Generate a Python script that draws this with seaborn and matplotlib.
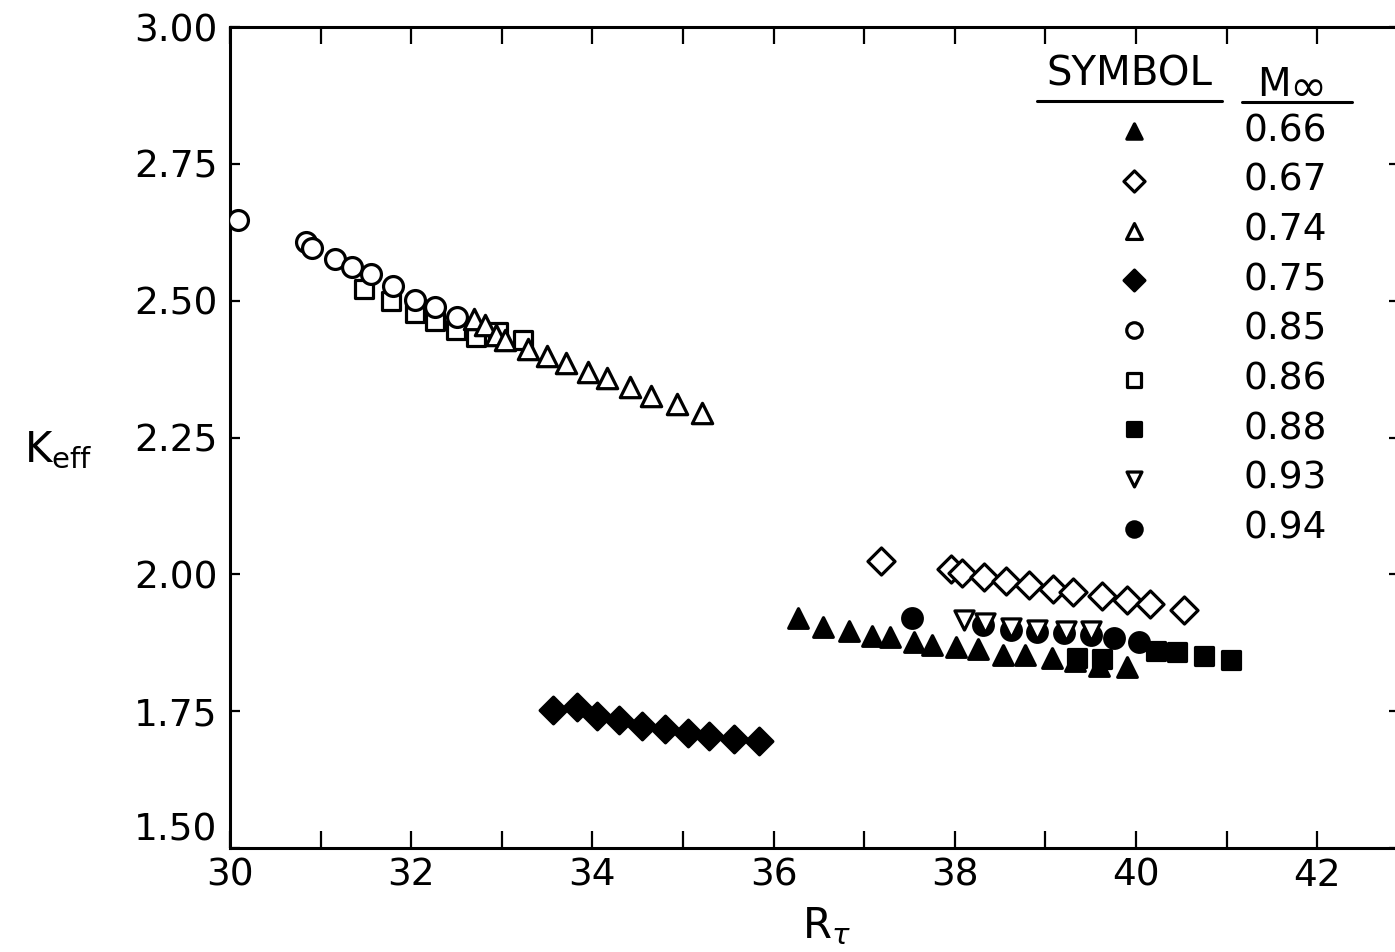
import matplotlib
matplotlib.use("Agg")
import matplotlib.pyplot as plt
import seaborn as sns
from matplotlib.lines import Line2D

# ---------------- data ----------------
m066_x = [36.27, 36.54, 36.83, 37.09, 37.28, 37.55, 37.75, 38.01, 38.26, 38.53, 38.78, 39.07, 39.33, 39.59, 39.90]
m066_y = [1.920, 1.903, 1.897, 1.887, 1.885, 1.877, 1.871, 1.867, 1.863, 1.853, 1.853, 1.847, 1.842, 1.832, 1.831]
m067_x = [37.18, 37.96, 38.08, 38.32, 38.56, 38.82, 39.08, 39.30, 39.63, 39.90, 40.16, 40.53]
m067_y = [2.025, 2.009, 2.002, 1.996, 1.988, 1.980, 1.973, 1.968, 1.960, 1.954, 1.946, 1.935]
m074_x = [32.69, 32.81, 32.94, 33.03, 33.29, 33.50, 33.71, 33.95, 34.16, 34.42, 34.65, 34.93, 35.21]
m074_y = [2.466, 2.456, 2.437, 2.428, 2.411, 2.399, 2.386, 2.370, 2.358, 2.343, 2.326, 2.312, 2.294]
m075_x = [33.56, 33.83, 34.05, 34.29, 34.55, 34.80, 35.05, 35.29, 35.56, 35.84]
m075_y = [1.753, 1.758, 1.741, 1.733, 1.723, 1.717, 1.711, 1.705, 1.700, 1.696]
m085_x = [30.09, 30.84, 30.90, 31.16, 31.35, 31.56, 31.80, 32.04, 32.26, 32.51]
m085_y = [2.647, 2.608, 2.596, 2.576, 2.562, 2.549, 2.527, 2.502, 2.488, 2.470]
m086_x = [31.48, 31.78, 32.04, 32.26, 32.49, 32.72, 32.96, 33.23]
m086_y = [2.521, 2.500, 2.478, 2.462, 2.446, 2.434, 2.443, 2.429]
m088_x = [39.35, 39.62, 40.22, 40.45, 40.75, 41.05]
m088_y = [1.848, 1.846, 1.860, 1.858, 1.850, 1.844]
m093_x = [38.10, 38.33, 38.62, 38.91, 39.23, 39.50]
m093_y = [1.916, 1.911, 1.902, 1.899, 1.896, 1.896]
m094_x = [37.53, 38.31, 38.62, 38.91, 39.21, 39.50, 39.76, 40.03]
m094_y = [1.920, 1.907, 1.898, 1.895, 1.892, 1.890, 1.883, 1.877]

legend_order = ["0.66", "0.67", "0.74", "0.75", "0.85", "0.86", "0.88", "0.93", "0.94"]
x_ticks = list(range(30, 43))
x_ticklabels = [str(t) if t % 2 == 0 else "" for t in x_ticks]
y_ticks = [1.50, 1.75, 2.00, 2.25, 2.50, 2.75, 3.00]
y_ticklabels = ["1.50", "1.75", "2.00", "2.25", "2.50", "2.75", "3.00"]

# ---------------- style ----------------
sns.set_style("ticks")
plt.rcParams["font.family"] = ["DejaVu Sans"]
plt.rcParams["mathtext.fontset"] = "dejavusans"
plt.rcParams["text.color"] = "black"
plt.rcParams["axes.labelcolor"] = "black"
plt.rcParams["xtick.color"] = "black"
plt.rcParams["ytick.color"] = "black"

W, H = 1395, 952
fig = plt.figure(figsize=(W / 100, H / 100), dpi=100)
fig.patch.set_facecolor("white")
left_px, right_px, top_px, bottom_px = 230, 1399, 27, 848
ax = fig.add_axes([left_px / W, 1 - bottom_px / H, (right_px - left_px) / W, (bottom_px - top_px) / H])
ax.set_facecolor("white")

# (label, x, y, marker, face, size, zorder)
series = [
    ("0.86", m086_x, m086_y, "s", "white", 155, 3),
    ("0.85", m085_x, m085_y, "o", "white", 205, 4),
    ("0.74", m074_x, m074_y, "^", "white", 215, 5),
    ("0.75", m075_x, m075_y, "D", "black", 185, 3),
    ("0.67", m067_x, m067_y, "D", "white", 190, 3),
    ("0.94", m094_x, m094_y, "o", "black", 200, 3),
    ("0.88", m088_x, m088_y, "s", "black", 170, 3),
    ("0.66", m066_x, m066_y, "^", "black", 200, 4),
    ("0.93", m093_x, m093_y, "v", "white", 190, 5),
]

for lab, xs, ys, mk, face, s, z in series:
    sns.scatterplot(x=xs, y=ys, marker=mk, s=s, color=face, edgecolor="black",
                    linewidth=2.3, zorder=z, label=lab, ax=ax, legend=False)

ax.set_xlim(30, 30 + (right_px - left_px) / 90.6)
ax.set_ylim(1.5, 3.0)
ax.set_xticks(x_ticks)
ax.set_xticklabels(x_ticklabels)
ax.set_yticks(y_ticks)
ax.set_yticklabels(y_ticklabels)

for sp in ax.spines.values():
    sp.set_linewidth(2.2)
    sp.set_color("black")
    sp.set_visible(True)

ax.tick_params(axis="x", which="both", direction="in", top=True, bottom=True,
               length=12, width=1.6, labelsize=27, pad=7, colors="black")
ax.tick_params(axis="y", which="both", direction="in", left=True, right=True,
               length=7, width=1.6, labelsize=27, pad=9, colors="black")
# lowest y label sits above the x axis line in the reference
ax.get_yticklabels()[0].set_verticalalignment("bottom")

ax.set_xlabel(r"R$_{\tau}$", fontsize=30, va="center")
ax.xaxis.set_label_coords((826 - left_px) / (right_px - left_px), (bottom_px - 926) / (bottom_px - top_px))
ax.set_ylabel(r"K$_{\mathregular{eff}}$", fontsize=30, rotation=0, va="center", ha="center")
ax.yaxis.set_label_coords((58 - left_px) / (right_px - left_px), (bottom_px - 450) / (bottom_px - top_px))

# legend
h, l = ax.get_legend_handles_labels()
hd = dict(zip(l, h))
leg = ax.legend([hd[k] for k in legend_order], legend_order, loc="upper left",
                bbox_to_anchor=(1096 / W, 1 - 113 / H), bbox_transform=fig.transFigure,
                frameon=False, fontsize=27, markerscale=0.78, handlelength=2.0,
                handletextpad=1.94, labelspacing=0.365, borderpad=0, borderaxespad=0)
leg.set_zorder(10)

fig.text(1129 / W, 1 - 74 / H, "SYMBOL", fontsize=29, ha="center", va="center")
fig.text(1257 / W, 1 - 96 / H, "M", fontsize=28, ha="left", va="baseline")
fig.text(1289 / W, 1 - 101 / H, "\u221e", fontsize=32, ha="left", va="baseline")
fig.add_artist(Line2D([1037 / W, 1222 / W], [1 - 101 / H, 1 - 101 / H], color="black", lw=2.2))
fig.add_artist(Line2D([1242 / W, 1352 / W], [1 - 102 / H, 1 - 102 / H], color="black", lw=2.2))

fig.savefig("out.png", dpi=100, facecolor="white")
